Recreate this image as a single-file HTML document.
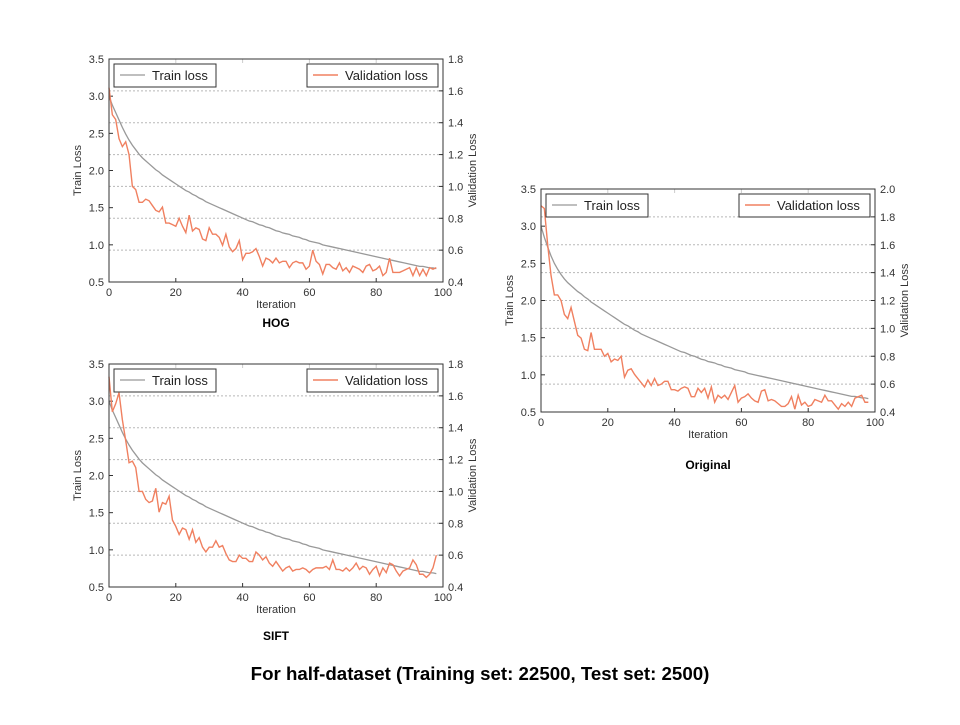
<!DOCTYPE html>
<html><head><meta charset="utf-8"><style>
body{margin:0;background:#fff;width:960px;height:720px;overflow:hidden;font-family:"Liberation Sans",sans-serif}
svg text{font-family:"Liberation Sans",sans-serif}
</style></head><body>
<svg id="s" width="960" height="720">
<text x="480" y="680" text-anchor="middle" font-size="18.7" font-weight="bold" fill="#000">For half-dataset (Training set: 22500, Test set: 2500)</text>
</svg>
<script>
const iterTicks=[0,20,40,60,80,100];
const trainTicks=[0.5,1.0,1.5,2.0,2.5,3.0,3.5];
const valTicksA=[0.4,0.6,0.8,1.0,1.2,1.4,1.6,1.8];
const valTicksB=[0.4,0.6,0.8,1.0,1.2,1.4,1.6,1.8,2.0];
const trainLoss=[3.0,2.88,2.78,2.68,2.58,2.49,2.41,2.34,2.28,2.22,2.17,2.13,2.09,2.05,2.01,1.98,1.94,1.91,1.88,1.85,1.82,1.79,1.76,1.73,1.71,1.68,1.66,1.63,1.61,1.58,1.56,1.54,1.52,1.5,1.48,1.46,1.44,1.42,1.4,1.38,1.36,1.34,1.32,1.31,1.29,1.27,1.26,1.24,1.23,1.21,1.19,1.18,1.16,1.15,1.14,1.12,1.11,1.1,1.08,1.07,1.05,1.04,1.03,1.02,1.0,0.99,0.98,0.97,0.96,0.95,0.94,0.93,0.92,0.91,0.9,0.89,0.88,0.87,0.86,0.85,0.84,0.83,0.82,0.81,0.8,0.79,0.78,0.77,0.76,0.75,0.74,0.73,0.72,0.71,0.71,0.7,0.69,0.69,0.68];
const trainLossOrig=[3.0,2.85,2.72,2.6,2.5,2.42,2.35,2.29,2.24,2.2,2.16,2.12,2.09,2.05,2.02,1.98,1.95,1.92,1.89,1.86,1.83,1.8,1.77,1.74,1.71,1.68,1.66,1.63,1.6,1.58,1.55,1.53,1.51,1.49,1.47,1.45,1.43,1.41,1.39,1.37,1.35,1.33,1.31,1.3,1.28,1.26,1.25,1.23,1.21,1.2,1.18,1.17,1.16,1.14,1.13,1.11,1.1,1.09,1.07,1.06,1.05,1.04,1.02,1.01,1.0,0.99,0.98,0.97,0.96,0.95,0.94,0.93,0.92,0.91,0.9,0.89,0.88,0.87,0.86,0.85,0.84,0.83,0.82,0.81,0.8,0.79,0.78,0.77,0.76,0.75,0.74,0.73,0.72,0.71,0.71,0.7,0.69,0.69,0.68];
const valHOG=[1.62,1.45,1.42,1.3,1.25,1.28,1.2,1.0,0.98,0.9,0.9,0.92,0.91,0.88,0.85,0.84,0.87,0.77,0.77,0.76,0.75,0.8,0.75,0.71,0.82,0.72,0.74,0.73,0.67,0.66,0.74,0.7,0.7,0.68,0.63,0.7,0.62,0.59,0.61,0.66,0.54,0.58,0.58,0.59,0.61,0.56,0.5,0.55,0.54,0.52,0.55,0.52,0.53,0.53,0.49,0.52,0.53,0.52,0.52,0.48,0.5,0.6,0.53,0.51,0.45,0.51,0.51,0.49,0.48,0.52,0.47,0.49,0.46,0.5,0.49,0.48,0.46,0.5,0.51,0.47,0.48,0.5,0.44,0.46,0.55,0.46,0.46,0.46,0.47,0.48,0.49,0.44,0.49,0.44,0.48,0.44,0.49,0.48,0.49];
const valSIFT=[1.72,1.5,1.55,1.62,1.45,1.32,1.18,1.19,1.15,1.0,1.0,0.95,0.93,0.94,1.02,0.87,0.93,0.92,0.97,0.82,0.78,0.73,0.77,0.76,0.7,0.76,0.68,0.71,0.65,0.62,0.65,0.65,0.69,0.65,0.66,0.61,0.57,0.56,0.56,0.6,0.58,0.58,0.56,0.56,0.62,0.6,0.57,0.59,0.55,0.53,0.56,0.53,0.5,0.52,0.53,0.5,0.51,0.51,0.52,0.51,0.49,0.51,0.52,0.52,0.52,0.53,0.51,0.57,0.51,0.51,0.5,0.52,0.5,0.52,0.55,0.51,0.53,0.52,0.48,0.51,0.53,0.47,0.52,0.49,0.55,0.54,0.5,0.47,0.5,0.51,0.52,0.57,0.54,0.48,0.48,0.46,0.48,0.52,0.6];
const valOrig=[1.88,1.86,1.6,1.38,1.24,1.24,1.2,1.1,1.07,1.15,1.05,0.95,0.93,0.85,0.84,0.97,0.85,0.85,0.85,0.8,0.82,0.76,0.78,0.77,0.8,0.65,0.7,0.71,0.67,0.64,0.61,0.58,0.63,0.59,0.64,0.59,0.6,0.62,0.62,0.56,0.56,0.55,0.57,0.58,0.57,0.51,0.51,0.57,0.54,0.57,0.5,0.58,0.47,0.52,0.5,0.52,0.49,0.54,0.59,0.47,0.5,0.51,0.53,0.5,0.48,0.47,0.55,0.56,0.48,0.49,0.48,0.46,0.44,0.44,0.46,0.51,0.42,0.52,0.45,0.47,0.44,0.45,0.49,0.48,0.47,0.52,0.48,0.48,0.45,0.42,0.46,0.44,0.47,0.44,0.5,0.51,0.52,0.47,0.47];

const NS='http://www.w3.org/2000/svg';
const svg=document.getElementById('s');
function mk(tag,attrs,parent,txt){const e=document.createElementNS(NS,tag);for(const k in attrs)e.setAttribute(k,attrs[k]);if(txt!==undefined)e.textContent=txt;(parent||svg).appendChild(e);return e;}

function chart(name,L,T,R,B,train,val,vTicks,title,titleY){
  const g=mk('g',{});
  
  
  const vMin=vTicks[0],vMax=vTicks[vTicks.length-1];
  const x=i=>L+(i-0)/(100-0)*(R-L);
  const yL=v=>B-(v-0.5)/(3.5-0.5)*(B-T);
  const yR=v=>B-(v-vMin)/(vMax-vMin)*(B-T);
  vTicks.forEach(v=>{
    if(v>vMin&&v<vMax){
      const gl=mk('line',{x1:L,x2:R,y1:yR(v),y2:yR(v),stroke:'#b8b8b8','stroke-dasharray':'2,2','stroke-width':1},g);
      
      
    }
    const t=mk('text',{x:R+5,y:yR(v)+4,'font-size':11,fill:'#333'},g,v.toFixed(1));
    
    
    mk('line',{x1:R-4,x2:R,y1:yR(v),y2:yR(v),stroke:'#333'},g);
  });
  trainTicks.forEach(v=>{
    const t=mk('text',{x:L-5,y:yL(v)+4,'font-size':11,fill:'#333','text-anchor':'end'},g,v.toFixed(1));
    
    
    mk('line',{x1:L,x2:L+4,y1:yL(v),y2:yL(v),stroke:'#333'},g);
  });
  iterTicks.forEach(v=>{
    const t=mk('text',{x:x(v),y:B+14,'font-size':11,fill:'#333','text-anchor':'middle'},g,String(v));
    
    
    mk('line',{x1:x(v),x2:x(v),y1:B,y2:B-4,stroke:'#333'},g);
    mk('line',{x1:x(v),x2:x(v),y1:T,y2:T+4,stroke:'#ccc'},g);
  });
  const tp=mk('polyline',{points:train.map((v,i)=>x(i)+','+yL(v)).join(' '),fill:'none',stroke:'#999','stroke-width':1.3},g);
  
  
  const vp=mk('polyline',{points:val.map((v,i)=>x(i)+','+yR(v)).join(' '),fill:'none',stroke:'#f08060','stroke-width':1.4},g);
  
  
  mk('rect',{x:L,y:T,width:R-L,height:B-T,fill:'none',stroke:'#333','stroke-width':1},g);
  const lg1=mk('g',{},g);
  
  
  mk('rect',{x:L+5,y:T+5,width:102,height:23,fill:'#fff',stroke:'#333'},lg1);
  mk('line',{x1:L+11,x2:L+36,y1:T+16,y2:T+16,stroke:'#999','stroke-width':1.3},lg1);
  mk('text',{x:L+43,y:T+21,'font-size':13,fill:'#222'},lg1,'Train loss');
  const lg2=mk('g',{},g);
  
  
  mk('rect',{x:R-136,y:T+5,width:131,height:23,fill:'#fff',stroke:'#333'},lg2);
  mk('line',{x1:R-130,x2:R-105,y1:T+16,y2:T+16,stroke:'#f08060','stroke-width':1.4},lg2);
  mk('text',{x:R-98,y:T+21,'font-size':13,fill:'#222'},lg2,'Validation loss');
  const xt=mk('text',{x:(L+R)/2,y:B+26,'font-size':11,fill:'#333','text-anchor':'middle'},g,'Iteration');
  
  
  const cy=(T+B)/2;
  const yl=mk('text',{x:L-28,y:cy,'font-size':11,fill:'#333','text-anchor':'middle',transform:`rotate(-90 ${L-28} ${cy})`},g,'Train Loss');
  
  
  const yr=mk('text',{x:R+33,y:cy,'font-size':11,fill:'#333','text-anchor':'middle',transform:`rotate(-90 ${R+33} ${cy})`},g,'Validation Loss');
  
  
  const tt=mk('text',{x:(L+R)/2,y:titleY,'font-size':12,'font-weight':'bold',fill:'#000','text-anchor':'middle'},g,title);
  
  
}
chart('hog',109,59,443,282,trainLoss,valHOG,valTicksA,'HOG',327);
chart('sift',109,364,443,587,trainLoss,valSIFT,valTicksA,'SIFT',640);
chart('original',541,189,875,412,trainLossOrig,valOrig,valTicksB,'Original',469);
</script>
</body></html>
